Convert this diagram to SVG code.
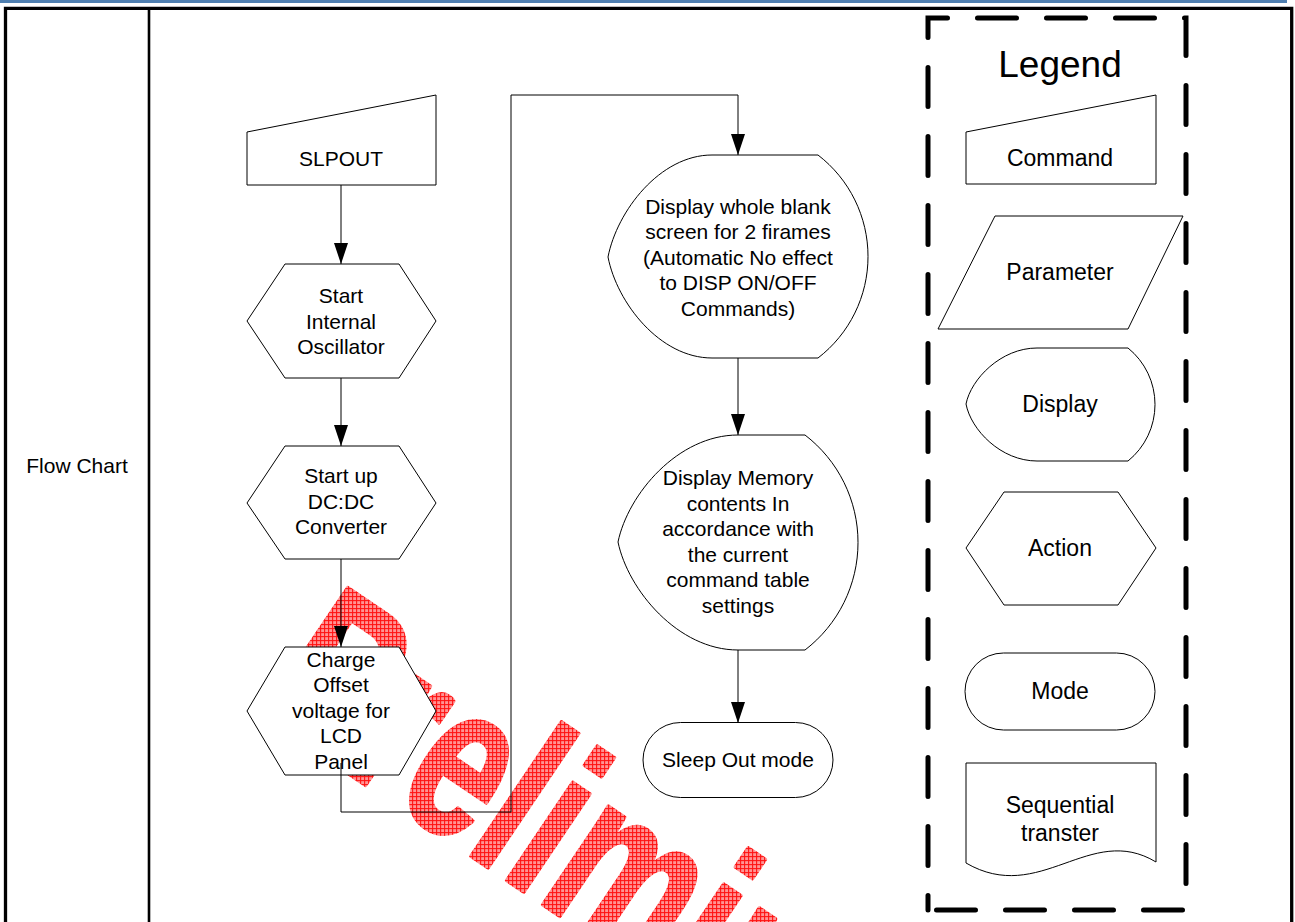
<svg xmlns="http://www.w3.org/2000/svg" width="1295" height="922" viewBox="0 0 1295 922">
<style>
.sh{fill:#fff;stroke:#000;stroke-width:1}
.t{font-family:"Liberation Sans",Arial,sans-serif;font-size:21px;fill:#000;text-anchor:middle}
.lt{font-family:"Liberation Sans",Arial,sans-serif;font-size:23px;fill:#000;text-anchor:middle}
.cn{fill:none;stroke:#000;stroke-width:1}
</style>
<defs>
<marker id="arr" markerWidth="21" markerHeight="14" refX="21" refY="7" orient="auto" markerUnits="userSpaceOnUse"><path d="M0,0 L21,7 L0,14 Z" fill="#000"/></marker>
<pattern id="hatch" width="4" height="4" patternUnits="userSpaceOnUse" patternTransform="scale(1.4286,1) rotate(-34) translate(-253,-709)">
<rect width="4" height="4" fill="#ff9494"/>
<path d="M0,0.5 H4 M0.5,0 V4" stroke="#ff1010" stroke-width="1"/>
</pattern>
</defs>
<rect width="1295" height="922" fill="#fff"/>
<g id="frame">
<rect x="0" y="0" width="1287" height="3" fill="#4f7fb0"/>
<path d="M5.5,922 V8.3 H1291.7 V922" fill="none" stroke="#000" stroke-width="3.3"/>
<line x1="149" y1="8" x2="149" y2="922" stroke="#000" stroke-width="2.6"/>
<text class="t" x="77" y="473">Flow Chart</text>
</g>
<g id="watermark">
<text x="0" y="0" transform="translate(253,709) rotate(34) scale(0.7,1)" font-family="Liberation Sans, Arial, sans-serif" font-weight="bold" font-size="223" fill="url(#hatch)" stroke="url(#hatch)" stroke-width="4" stroke-linejoin="round">Preliminary</text>
</g>
<g id="n_slpout">
<polygon class="sh" points="247,132 436,95 436,185 247,185"/>
<text class="t" x="341" y="165.5">SLPOUT</text>
</g>
<g id="n_osc">
<polygon class="sh" points="285,264 399,264 436,321 399,378 285,378 247,321"/>
<text class="t" x="341" y="303">Start</text>
<text class="t" x="341" y="328.5">Internal</text>
<text class="t" x="341" y="354">Oscillator</text>
</g>
<g id="n_dcdc">
<polygon class="sh" points="285,446 399,446 436,503 399,559 285,559 247,503"/>
<text class="t" x="341" y="483">Start up</text>
<text class="t" x="341" y="508.5">DC:DC</text>
<text class="t" x="341" y="534">Converter</text>
</g>
<g id="n_charge">
<polygon class="sh" points="285,647 399,647 436,711 399,775 285,775 247,711"/>
<text class="t" x="341" y="666.5">Charge</text>
<text class="t" x="341" y="692">Offset</text>
<text class="t" x="341" y="717.5">voltage for</text>
<text class="t" x="341" y="743">LCD</text>
<text class="t" x="341" y="768.5">Panel</text>
</g>
<g id="n_blank">
<path class="sh" d="M608,257 C617,211 660,155 712,155 L818,155 A128,128 0 0 1 818,358 L712,358 C660,358 617,303 608,257 Z"/>
<text class="t" x="738" y="213.5">Display whole blank</text>
<text class="t" x="738" y="239">screen for 2 firames</text>
<text class="t" x="738" y="264.5">(Automatic No effect</text>
<text class="t" x="738" y="290">to DISP ON/OFF</text>
<text class="t" x="738" y="315.5">Commands)</text>
</g>
<g id="n_memory">
<path class="sh" d="M618,542 C628,494 678,435 738,435 L805,435 A135.5,135.5 0 0 1 805,650 L738,650 C678,650 628,590 618,542 Z"/>
<text class="t" x="738" y="485">Display Memory</text>
<text class="t" x="738" y="510.5">contents In</text>
<text class="t" x="738" y="536">accordance with</text>
<text class="t" x="738" y="561.5">the current</text>
<text class="t" x="738" y="587">command table</text>
<text class="t" x="738" y="612.5">settings</text>
</g>
<g id="n_sleepout">
<rect class="sh" x="643" y="722.5" width="190" height="75" rx="37.5" ry="37.5"/>
<text class="t" x="738" y="767">Sleep Out mode</text>
</g>
<g id="connectors">
<path class="cn" d="M341,185 V264" marker-end="url(#arr)"/>
<path class="cn" d="M341,378 V446" marker-end="url(#arr)"/>
<path class="cn" d="M341,559 V647" marker-end="url(#arr)"/>
<path class="cn" d="M341,763 V812 H511 V95 H738 V155" marker-end="url(#arr)"/>
<path class="cn" d="M738,358 V435" marker-end="url(#arr)"/>
<path class="cn" d="M738,650 V723" marker-end="url(#arr)"/>
</g>
<g id="legend">
<path d="M928,910 V18 H1186 V910 Z" fill="none" stroke="#000" stroke-width="5" stroke-linecap="round" stroke-dasharray="39 30" stroke-dashoffset="24.5"/>
<text x="1060" y="77" font-family="Liberation Sans, Arial, sans-serif" font-size="37" text-anchor="middle" fill="#000">Legend</text>
</g>
<g id="lg_command">
<polygon class="sh" points="966,132 1156,95 1156,184 966,184"/>
<text class="lt" x="1060" y="166">Command</text>
</g>
<g id="lg_parameter">
<polygon class="sh" points="995,216 1183,216 1128,329 938,329"/>
<text class="lt" x="1060" y="280">Parameter</text>
</g>
<g id="lg_display">
<path class="sh" d="M966,404 C971,379 1001,348 1037,348 L1128,348 A72.6,72.6 0 0 1 1128,461 L1037,461 C1001,461 971,430 966,404 Z"/>
<text class="lt" x="1060" y="412">Display</text>
</g>
<g id="lg_action">
<polygon class="sh" points="1004,492 1118,492 1156,548 1118,605 1004,605 966,548"/>
<text class="lt" x="1060" y="556">Action</text>
</g>
<g id="lg_mode">
<rect class="sh" x="965" y="653" width="190" height="77" rx="38.5" ry="38.5"/>
<text class="lt" x="1060" y="699">Mode</text>
</g>
<g id="lg_seq">
<path class="sh" d="M966,763 H1156 V862 C1090,822 1040,906 966,863 Z"/>
<text class="lt" x="1060" y="813">Sequential</text>
<text class="lt" x="1060" y="841">transter</text>
</g>
</svg>
